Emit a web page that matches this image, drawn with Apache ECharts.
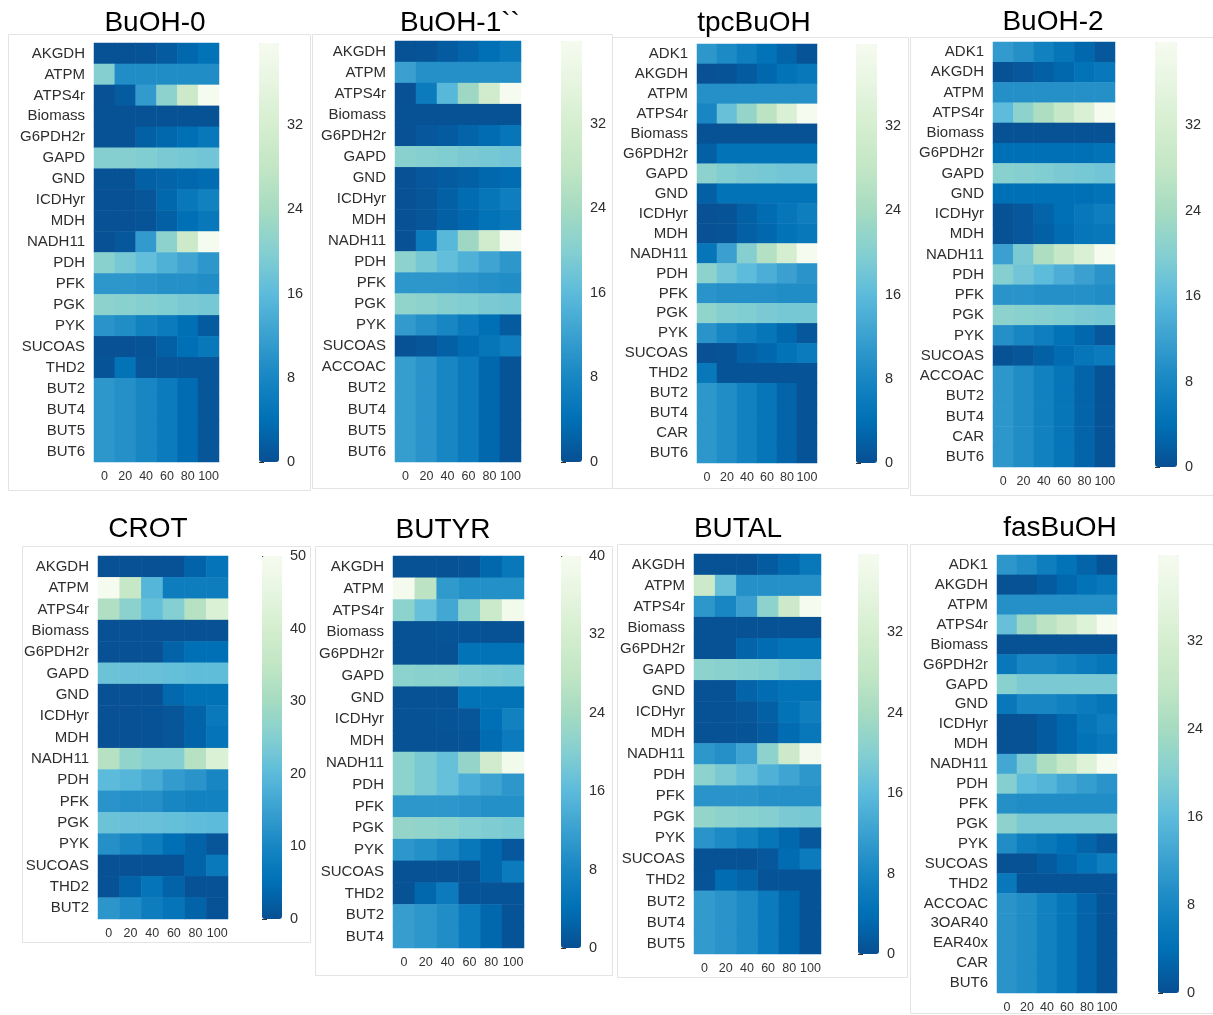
<!DOCTYPE html>
<html><head><meta charset="utf-8">
<script src="https://cdn.jsdelivr.net/npm/echarts@6.0.0/dist/echarts.min.js"></script>
<style>html,body{margin:0;padding:0;background:#fff}#c{width:1213px;height:1015px}</style>
</head><body><div id="c"></div>
<script>
const xLabels = ['0','20','40','60','80','100'];

const titles = ['BuOH-0','BuOH-1``','tpcBuOH','BuOH-2','CROT','BUTYR','BUTAL','fasBuOH'];

const rowsBuOH0 = ['AKGDH','ATPM','ATPS4r','Biomass','G6PDH2r','GAPD','GND','ICDHyr','MDH','NADH11','PDH','PFK','PGK','PYK','SUCOAS','THD2','BUT2','BUT4','BUT5','BUT6'];
const valsBuOH0 = [
 [0.3,0.3,0.5,1.5,3,4.5],
 [20,9,9,9,9,9],
 [0.2,1.5,11,21,30,39.8],
 [0.3,0.3,0.3,0.3,0.3,0.3],
 [0.3,0.3,2,3,4,5.5],
 [20,20,19.5,19,18.5,18],
 [0.3,0.3,2,2.5,3,3.5],
 [0.2,0.2,0.8,3,5.5,7],
 [0.2,0.2,0.5,2,4,5.5],
 [0.2,1,11,21,30,39.5],
 [20.5,18.5,16.5,14.5,12.5,10.5],
 [10.5,10.5,10,9.5,9.5,9],
 [21,20.5,20,19.5,19,18.5],
 [10,9,7,6,4,1.5],
 [0.2,0.2,0.5,2,4,5.5],
 [0.5,4.5,0.8,0.8,0.8,0.8],
 [10.5,9.5,8,6,3.5,0.8],
 [10.5,9.5,8,6,3.5,0.8],
 [10.5,9.5,8,6,3.5,0.8],
 [10.5,9.5,8,6,3.5,0.8]
];

const rowsBuOH1 = ['AKGDH','ATPM','ATPS4r','Biomass','G6PDH2r','GAPD','GND','ICDHyr','MDH','NADH11','PDH','PFK','PGK','PYK','SUCOAS','ACCOAC','BUT2','BUT4','BUT5','BUT6'];
const valsBuOH1 = [
 [0.3,0.5,1.5,2.5,4,5.5],
 [12,9.5,9.5,9.5,9.5,9.5],
 [0.2,6,15.5,23,31,39.8],
 [0.3,0.3,0.3,0.3,0.3,0.3],
 [0.2,1,1.5,2.5,3.5,5],
 [20.5,20,19.5,19,18.5,18],
 [0.2,1,1.5,2,3,3.5],
 [0.2,0.8,2,3.5,5,6.5],
 [0.2,0.8,2,3,4.5,5.5],
 [0.2,6,15.5,23,31,39.5],
 [21,18.5,16.5,14.5,12.5,10.5],
 [10.5,10.5,10.5,10,9.5,9],
 [21.5,21,20,19.5,19,18.5],
 [11,9.5,8,6,4,1.5],
 [0.3,0.8,2,3.5,5,6.5],
 [11.5,10,8,6,3,0.5],
 [11.5,10,8,6,3,0.5],
 [11.5,10,8,6,3,0.5],
 [11.5,10,8,6,3,0.5],
 [11.5,10,8,6,3,0.5]
];

const rowsTpc = ['ADK1','AKGDH','ATPM','ATPS4r','Biomass','G6PDH2r','GAPD','GND','ICDHyr','MDH','NADH11','PDH','PFK','PGK','PYK','SUCOAS','THD2','BUT2','BUT4','CAR','BUT6'];
const valsTpc = [
 [10.5,8.5,6.5,4.5,2.5,0.5],
 [0.2,0.5,1.5,3,4.5,5.5],
 [9.5,9.5,9.5,9.5,9.5,9.5],
 [8,17,22,27,33,39.8],
 [0.3,0.3,0.3,0.3,0.3,0.3],
 [2,4.5,4.5,4.5,4.5,4.5],
 [21,19.5,19,18.5,18,18],
 [2,4.5,4.5,4.5,4.5,4.5],
 [0.2,0.5,2,3.5,5,6.5],
 [0.2,0.5,2,3,4.5,5.5],
 [5,12,20,26,32,39.5],
 [21,18,16,14,12,10],
 [10,9.5,9.5,9.5,9,9],
 [21.5,20,19.5,19,18.5,18.5],
 [10,8,6.5,5,3,1],
 [0.2,0.5,2,3,4.5,6],
 [5.5,0.5,0.5,0.5,0.5,0.5],
 [10.5,9,7,5,2.5,0.5],
 [10.5,9,7,5,2.5,0.5],
 [10.5,9,7,5,2.5,0.5],
 [10.5,9,7,5,2.5,0.5]
];

const rowsBuOH2 = ['ADK1','AKGDH','ATPM','ATPS4r','Biomass','G6PDH2r','GAPD','GND','ICDHyr','MDH','NADH11','PDH','PFK','PGK','PYK','SUCOAS','ACCOAC','BUT2','BUT4','CAR','BUT6'];
const valsBuOH2 = [
 [11,9.5,7,5,3,1],
 [0.3,1,2,3,4.5,5.5],
 [9.5,9.5,9.5,9.5,9.5,9.5],
 [16,21,25,29,33,39.8],
 [0.3,0.3,0.3,0.3,0.3,0.3],
 [4,4,4,4,4,4.5],
 [20.5,20,19.5,19,18.5,18],
 [4,4,4,4,4,4.5],
 [0.3,1,2.5,4,5.5,6.5],
 [0.3,1,2,3.5,5,5.5],
 [12,19,25,29,33,39.5],
 [20,18,16,14,12,10],
 [10,10,9.5,9.5,9.5,9],
 [21,20.5,20,19.5,19,18.5],
 [9.5,8,6.5,4.5,3,1],
 [0.3,0.8,2,3.5,5,6],
 [10.5,9,7,5,2.5,0.5],
 [10.5,9,7,5,2.5,0.5],
 [10.5,9,7,5,2.5,0.5],
 [10.5,9,7,5,2.5,0.5],
 [10.5,9,7,5,2.5,0.5]
];

const rowsCROT = ['AKGDH','ATPM','ATPS4r','Biomass','G6PDH2r','GAPD','GND','ICDHyr','MDH','NADH11','PDH','PFK','PGK','PYK','SUCOAS','THD2','BUT2'];
const valsCROT = [
 [0.3,0.3,0.3,0.5,3,6],
 [50,36,19,8,8,8],
 [32,26,21,25,33,42],
 [0.3,0.3,0.3,0.3,0.3,0.3],
 [0.3,0.3,0.3,3,5,5],
 [22,21.5,21.5,21,20.5,20.5],
 [0.3,0.3,0.3,4,5.5,5.5],
 [0.3,0.3,0.5,1,3,7],
 [0.3,0.3,0.5,1,3,6],
 [33,27,25,25,33,42],
 [20,19,17,14,12.5,10],
 [12.5,12,12,10,9,9],
 [22,21.5,21.5,21,20.5,20],
 [12,10,8,5,3,1],
 [0.3,0.3,0.3,0.5,3,7],
 [0.5,3,6,3,0.5,0.5],
 [13,11,8,6,3,0.5]
];

const rowsBUTYR = ['AKGDH','ATPM','ATPS4r','Biomass','G6PDH2r','GAPD','GND','ICDHyr','MDH','NADH11','PDH','PFK','PGK','PYK','SUCOAS','THD2','BUT2','BUT4'];
const valsBUTYR = [
 [0.3,0.3,0.3,0.5,3,5.5],
 [39.5,27,11,9.5,9.5,9.5],
 [21,17,13,21,30,39],
 [0.3,0.3,0.5,0.5,0.3,0.3],
 [0.3,0.3,0.3,4.5,4.5,4.5],
 [21,20.5,20.5,19.5,19,18.5],
 [0.3,0.3,0.3,4.5,4.5,4.5],
 [0.3,0.3,0.5,0.8,4,7],
 [0.3,0.3,0.3,0.5,3.5,6],
 [21,19,17,22,31,39],
 [21,19,17,14,12.5,10.5],
 [10.5,10.5,10.5,10,9.5,9.5],
 [22,21.5,21,20,19.5,19],
 [10.5,9.5,8,5.5,3,1],
 [0.3,0.3,0.3,0.3,3,6],
 [0.3,3,6,0.5,0.5,0.5],
 [11.5,10.5,9,6,3,0.5],
 [11.5,10.5,9,6,3,0.5]
];

const rowsBUTAL = ['AKGDH','ATPM','ATPS4r','Biomass','G6PDH2r','GAPD','GND','ICDHyr','MDH','NADH11','PDH','PFK','PGK','PYK','SUCOAS','THD2','BUT2','BUT4','BUT5'];
const valsBUTAL = [
 [0.3,0.3,0.3,1.5,3,5.5],
 [30,17,9.5,9.5,9.5,9.5],
 [10.5,8,12,21,30,39.5],
 [0.3,0.3,0.3,0.3,0.3,0.3],
 [0.3,0.3,2.5,3.5,4.5,4.5],
 [21,20.5,20,19.5,18.5,18],
 [0.3,0.3,2.5,3.5,4.5,4.5],
 [0.3,0.3,0.8,2,4.5,6.5],
 [0.3,0.3,0.5,1.5,3.5,5.5],
 [10.5,9.5,12.5,21,30,39],
 [21,19,17,14.5,12.5,10.5],
 [10,10,10,9.5,9.5,9.5],
 [22,21,20.5,20,19,18.5],
 [10,8.5,7,5,3,1],
 [0.3,0.3,0.3,1,3.5,6],
 [0.5,3.5,2.5,0.5,0.5,0.5],
 [11,10,8.5,6,3,0.5],
 [11,10,8.5,6,3,0.5],
 [11,10,8.5,6,3,0.5]
];

const rowsFas = ['ADK1','AKGDH','ATPM','ATPS4r','Biomass','G6PDH2r','GAPD','GND','ICDHyr','MDH','NADH11','PDH','PFK','PGK','PYK','SUCOAS','THD2','ACCOAC','3OAR40','EAR40x','CAR','BUT6'];
const valsFas = [
 [10.5,9,6.5,4.5,2.5,0.5],
 [0.3,0.3,1.5,3,4.5,5.5],
 [9.5,9.5,9.5,9.5,9.5,9.5],
 [17,23,27,30,34,39.5],
 [0.3,0.3,0.3,0.3,0.3,0.3],
 [5.5,8,8,7,6,5],
 [20.5,19,19,19,19,19],
 [5.5,8,8,7,6,5],
 [0.3,0.3,1.5,3,5,6.5],
 [0.3,0.3,1.5,3,4.5,5.5],
 [13,19,25,29,34,39.5],
 [20,16,15,13,11.5,10],
 [9.5,9,9,9,9,9],
 [21,19,19,19,19,19],
 [9,6.5,5.5,4,2.5,1],
 [0.3,0.3,1.5,3,4.5,6.5],
 [5.5,0.5,0.5,0.5,0.5,0.5],
 [10,9,7,5,2.5,0.5],
 [10,9,7,5,2.5,0.5],
 [10,9,7,5,2.5,0.5],
 [10,9,7,5,2.5,0.5],
 [10,9,7,5,2.5,0.5]
];

const colorMax = [39.8,39.8,39.8,39.8,50,40,39.8,39.8];
const ticks8 = [0,8,16,24,32];
const colorTicks = [ticks8, ticks8, ticks8, ticks8, [0,10,20,30,40,50], [0,8,16,24,32,40], ticks8, ticks8];

const panelRows = [rowsBuOH0, rowsBuOH1, rowsTpc, rowsBuOH2, rowsCROT, rowsBUTYR, rowsBUTAL, rowsFas];
const panelVals = [valsBuOH0, valsBuOH1, valsTpc, valsBuOH2, valsCROT, valsBUTYR, valsBUTAL, valsFas];

// layout (pixel boxes): heatmap [left, top, width, height], colorbar [...], title center, frame
const layout = [
 {hm:[94,43,125,419],  cb:[259,43,20,419],  t:[155,23],  fr:[8,34,302,456]},
 {hm:[395,41,126,421], cb:[561,41,21,421],  t:[460,23],  fr:[312,34,300,454]},
 {hm:[697,44,120,419], cb:[856,44,21,419],  t:[754,23],  fr:[612,37,296,451]},
 {hm:[993,42,122,425], cb:[1155,42,22,425], t:[1053,22], fr:[910,37,303,458]},
 {hm:[98,556,130,363], cb:[262,556,20,363], t:[148,529], fr:[22,546,288,396]},
 {hm:[393,556,131,392],cb:[561,556,20,392], t:[443,530], fr:[315,546,297,429]},
 {hm:[694,554,127,400],cb:[858,554,21,400], t:[738,529], fr:[617,544,290,433]},
 {hm:[997,555,120,438],cb:[1158,555,21,438],t:[1060,528],fr:[910,544,303,469]}
];

const cmap = ['#084f92','#0070b6','#1786c3','#3aa0d0','#5cbbdb','#84cfd1','#a5dbc1','#c2e6c5','#d4eecf','#e6f5e0','#f6fbf0'];
const FONT = "'Liberation Sans', Arial, Helvetica, sans-serif";

const option = {
  backgroundColor: '#fff',
  animation: false,
  title: [], grid: [], xAxis: [], yAxis: [], series: [], visualMap: [], graphic: []
};

layout.forEach((L, i) => {
  const rows = panelRows[i], vals = panelVals[i];
  option.graphic.push({type:'rect', silent:true, z:-1,
    shape:{x:L.fr[0]+0.5, y:L.fr[1]+0.5, width:L.fr[2], height:L.fr[3]},
    style:{fill:null, stroke:'#e4e4e4', lineWidth:1}});
  option.title.push({text:titles[i], left:L.t[0], top:L.t[1]-14, textAlign:'center', padding:0,
    textStyle:{fontSize:28, fontWeight:'normal', color:'#000', fontFamily:FONT, lineHeight:28}});
  option.grid.push({left:L.hm[0], top:L.hm[1], width:L.hm[2], height:L.hm[3], containLabel:false});
  option.grid.push({left:L.cb[0], top:L.cb[1], width:L.cb[2], height:L.cb[3], containLabel:false});
  option.xAxis.push({type:'category', gridIndex:2*i, data:xLabels, position:'bottom',
    axisLine:{show:false}, axisTick:{show:false}, splitLine:{show:false},
    axisLabel:{fontSize:12.5, color:'#333', fontFamily:FONT, margin:8, interval:0}});
  option.xAxis.push({type:'value', gridIndex:2*i+1, show:false, min:0, max:1});
  option.yAxis.push({type:'category', gridIndex:2*i, data:rows, inverse:true,
    axisLine:{show:false}, axisTick:{show:false}, splitLine:{show:false},
    axisLabel:{fontSize:15, color:'#2e2e2e', fontFamily:FONT, margin:9, interval:0}});
  option.yAxis.push({type:'value', gridIndex:2*i+1, position:'right', min:0, max:colorMax[i],
    axisLine:{show:false}, splitLine:{show:false},
    axisTick:{show:true, length:5, inside:false, customValues:colorTicks[i], lineStyle:{color:'#333', width:1}},
    axisLabel:{show:true, customValues:colorTicks[i], fontSize:14.5, color:'#2e2e2e', fontFamily:FONT, margin:8}});
  const data = [];
  rows.forEach((r, ri) => vals[ri].forEach((v, ci) => data.push([ci, ri, v])));
  option.series.push({type:'heatmap', xAxisIndex:2*i, yAxisIndex:2*i, data:data,
    itemStyle:{borderWidth:0}, emphasis:{disabled:true}, progressive:0, silent:true});
  option.visualMap.push({type:'continuous', seriesIndex:i, min:0, max:colorMax[i],
    orient:'vertical', left:L.cb[0], top:L.cb[1], itemWidth:L.cb[2], itemHeight:L.cb[3],
    padding:0, calculable:false, hoverLink:false, showLabel:false, text:null,
    inRange:{color:cmap}});
});

const chart = echarts.init(document.getElementById('c'), null, {renderer:'canvas'});
chart.setOption(option);
</script>
</body></html>
